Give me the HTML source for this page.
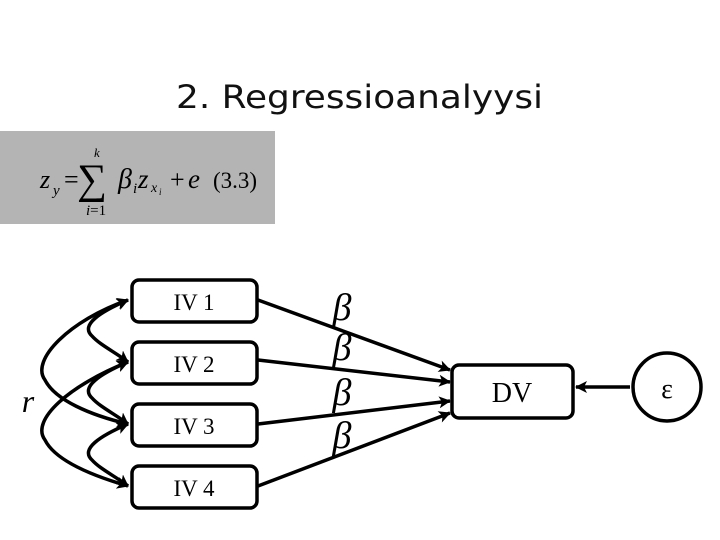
<!DOCTYPE html>
<html><head><style>body{margin:0;background:#fff}svg{display:block}</style></head>
<body>
<svg width="720" height="540" viewBox="0 0 720 540" xmlns="http://www.w3.org/2000/svg">
<defs>
<marker id="b" markerWidth="12" markerHeight="12" refX="11" refY="6" orient="auto-start-reverse" markerUnits="userSpaceOnUse" viewBox="0 0 12 12">
<path d="M0,0 L12,6 L0,12 L3,6 Z" fill="#000"/></marker>
</defs>
<text x="176" y="108" font-family="DejaVu Sans, sans-serif" font-size="32" textLength="367" lengthAdjust="spacingAndGlyphs" fill="#111">2. Regressioanalyysi</text>
<rect x="0" y="131" width="275" height="93" fill="#b4b4b4"/>
<g font-family="Liberation Serif, serif" fill="#000">
<text x="40" y="188" font-size="26" font-style="italic">z</text>
<text x="53" y="195" font-size="15" font-style="italic">y</text>
<text x="64" y="188" font-size="26">=</text>
<text x="77" y="193" font-size="42">∑</text>
<text x="94" y="157" font-size="13" font-style="italic">k</text>
<text x="86" y="215" font-size="15"><tspan font-style="italic">i</tspan>=1</text>
<text x="118" y="188" font-size="28" font-style="italic">β</text>
<text x="133" y="193" font-size="15" font-style="italic">i</text>
<text x="138" y="188" font-size="27" font-style="italic">z</text>
<text x="151" y="192" font-size="14" font-style="italic">x</text>
<text x="159" y="195" font-size="9" font-style="italic">i</text>
<text x="170" y="188" font-size="26">+</text>
<text x="188" y="188" font-size="27" font-style="italic">e</text>
<text x="213" y="188" font-size="23">(3.3)</text>
</g>
<g fill="#fff" stroke="#000" stroke-width="3.5">
<rect x="132" y="280" width="125" height="42" rx="7"/>
<rect x="132" y="342" width="125" height="42" rx="7"/>
<rect x="132" y="404" width="125" height="42" rx="7"/>
<rect x="132" y="466" width="125" height="42" rx="7"/>
<rect x="452" y="365" width="121" height="53" rx="7"/>
<circle cx="667" cy="387" r="34"/>
</g>
<g font-family="Liberation Serif, serif" font-size="23" text-anchor="middle" fill="#000">
<text x="194" y="310">IV 1</text>
<text x="194" y="372">IV 2</text>
<text x="194" y="434">IV 3</text>
<text x="194" y="496">IV 4</text>
<text x="512" y="402" font-size="28">DV</text>
<text x="667" y="398" font-size="28">ε</text>
<text x="28" y="412" font-size="32" font-style="italic">r</text>
<text x="342" y="320" font-size="38" font-style="italic">β</text>
<text x="342" y="360" font-size="38" font-style="italic">β</text>
<text x="342" y="405" font-size="38" font-style="italic">β</text>
<text x="342" y="448" font-size="38" font-style="italic">β</text>
</g>
<g stroke="#000" stroke-width="3.5" fill="none">
<line x1="258" y1="300" x2="450" y2="370" marker-end="url(#b)"/>
<line x1="258" y1="360" x2="450" y2="382" marker-end="url(#b)"/>
<line x1="258" y1="424" x2="450" y2="401" marker-end="url(#b)"/>
<line x1="258" y1="486" x2="450" y2="413" marker-end="url(#b)"/>
<line x1="630" y1="387" x2="576" y2="387" marker-end="url(#b)"/>
<path d="M128,300 C70,320 30,360 45,380 C55,400 90,415 128,424" marker-start="url(#b)" marker-end="url(#b)"/>
<path d="M128,362 C70,385 30,420 45,440 C55,460 90,475 128,486" marker-start="url(#b)" marker-end="url(#b)"/>
<path d="M128,300 C100,312 80,325 92,336 C100,345 115,352 128,362" marker-start="url(#b)" marker-end="url(#b)"/>
<path d="M128,362 C100,374 80,387 92,398 C100,407 115,414 128,424" marker-start="url(#b)" marker-end="url(#b)"/>
<path d="M128,424 C100,436 80,449 92,460 C100,469 115,476 128,486" marker-start="url(#b)" marker-end="url(#b)"/>
</g>
</svg>
</body></html>
